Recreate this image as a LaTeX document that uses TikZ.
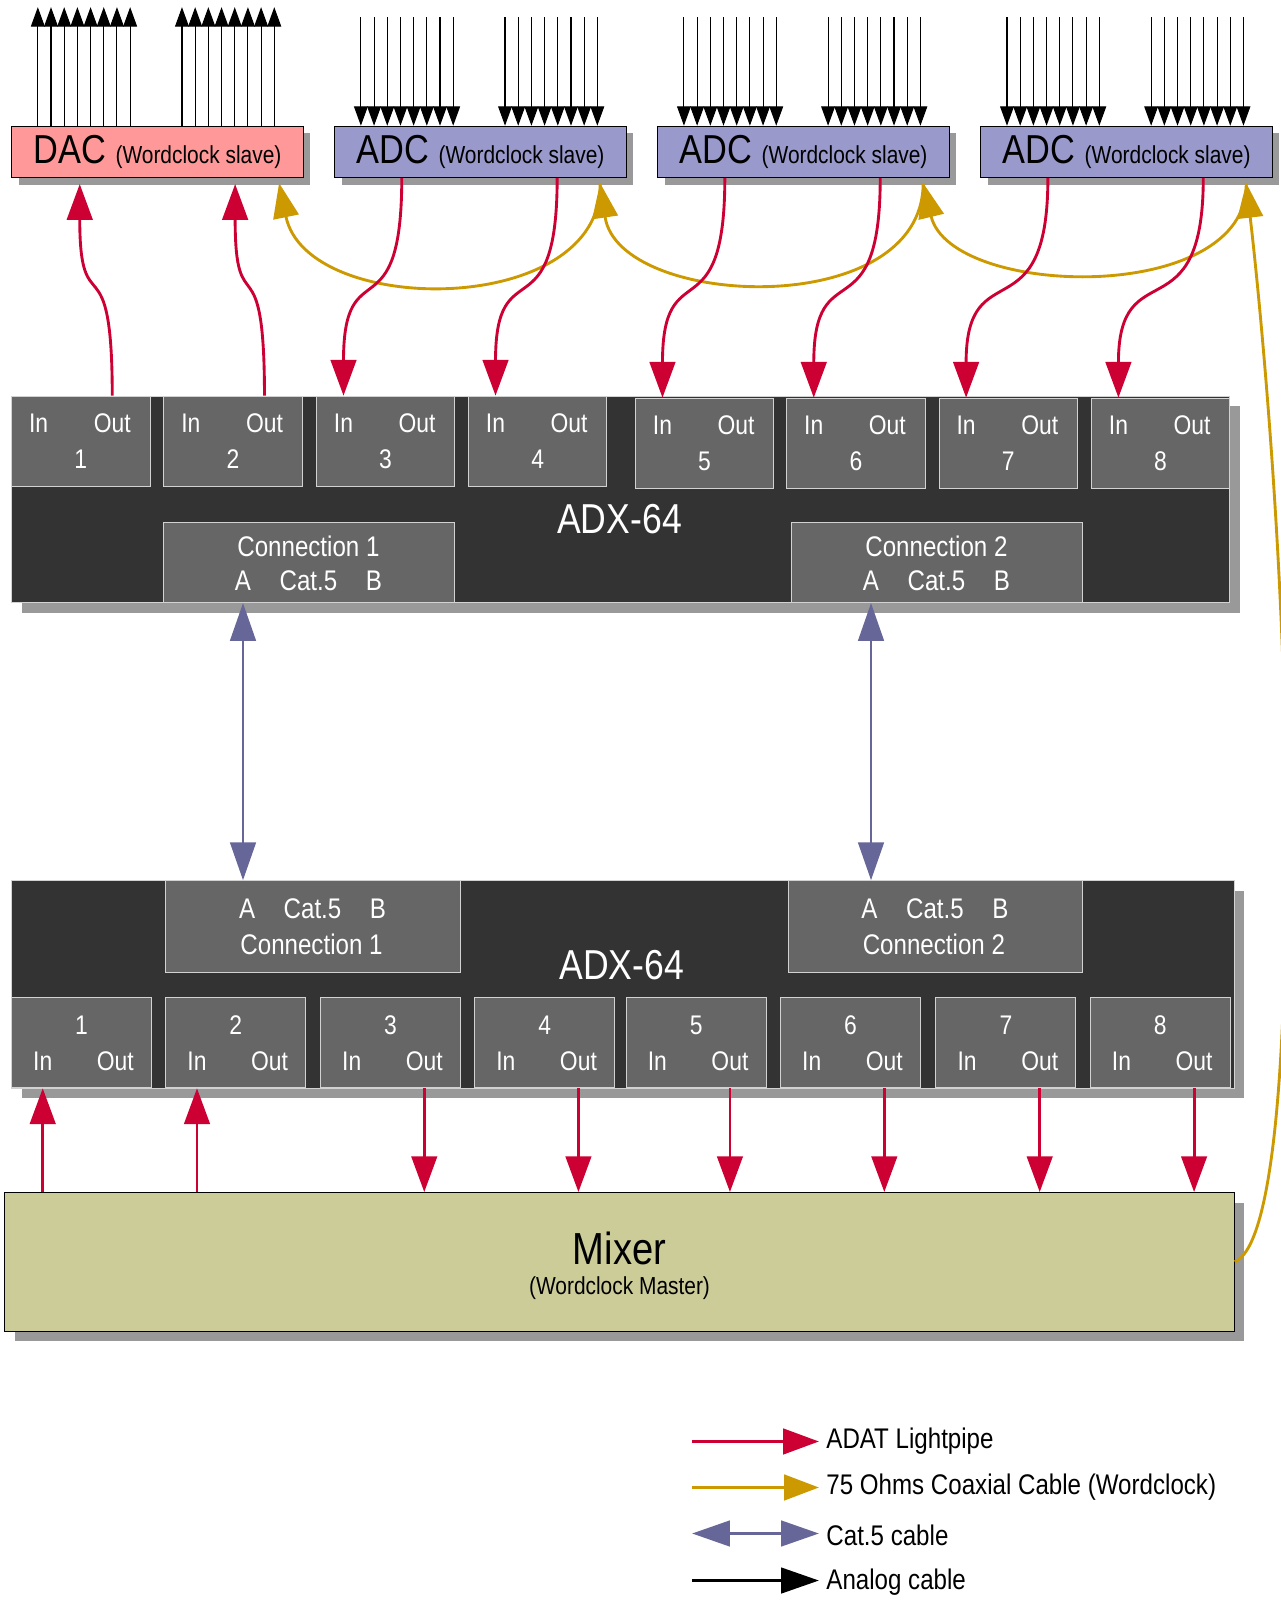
\documentclass[tikz,border=0pt]{standalone}
\usepackage{fontspec}
\setmainfont{Liberation Sans}[FakeStretch=0.85]
\usetikzlibrary{positioning, calc, arrows.meta, shadows}
\definecolor{DacPink}{RGB}{255,153,153}
\definecolor{AdcBlue}{RGB}{153,153,204}
\definecolor{MixKhaki}{RGB}{204,204,153}
\definecolor{BodyDark}{RGB}{51,51,51}
\definecolor{PortGray}{RGB}{102,102,102}
\definecolor{EdgeGray}{RGB}{210,210,210}
\definecolor{ShadowGray}{RGB}{153,153,153}
\definecolor{AdatRed}{RGB}{204,0,51}
\definecolor{ClockGold}{RGB}{204,153,0}
\definecolor{CatPurple}{RGB}{102,102,153}

\begin{document}
\begin{tikzpicture}[x=0.02cm, y=-0.02cm,
    devbox/.style={draw=black, line width=0.6pt, anchor=north west, inner sep=0pt,
                   minimum width=5.7cm, minimum height=1cm,
                   drop shadow={fill=ShadowGray, opacity=1, shadow xshift=0.14cm, shadow yshift=-0.14cm}},
    mixbox/.style={draw=black, line width=0.6pt, fill=MixKhaki, anchor=north west, inner sep=0pt,
                   drop shadow={fill=ShadowGray, opacity=1, shadow xshift=0.2cm, shadow yshift=-0.2cm}},
    body/.style={fill=BodyDark, draw=EdgeGray, line width=0.4pt, anchor=north west, inner sep=0pt,
                 drop shadow={fill=ShadowGray, opacity=1, shadow xshift=0.2cm, shadow yshift=-0.2cm}},
    port/.style={fill=PortGray, draw=EdgeGray, line width=0.5pt, anchor=north west, inner sep=0pt,
                 minimum height=1.76cm},
    porttxt/.style={text=white, inner sep=0pt, font=\fontsize{15}{18}\selectfont},
    conntxt/.style={text=white, inner sep=0pt, font=\fontsize{15.8}{19}\selectfont},
    title/.style={text=white, inner sep=0pt, font=\fontsize{23.3}{28}\selectfont},
    legtxt/.style={anchor=west, inner sep=4pt, font=\fontsize{15.8}{19}\selectfont},
    adat/.style={-{Triangle[length=0.7cm, width=0.5cm]}, AdatRed, line width=1.6pt},
    clock/.style={-{Triangle[length=0.68cm, width=0.5cm]}, ClockGold, line width=1.6pt},
    cat/.style={{Triangle[length=0.74cm, width=0.5cm]}-{Triangle[length=0.74cm, width=0.5cm]},
                CatPurple, line width=1.6pt},
    analog/.style={-{Triangle[length=0.38cm, width=0.27cm]}, black, line width=0.6pt},
    analogleg/.style={-{Triangle[length=0.74cm, width=0.5cm]}, black, line width=1.6pt}
  ]
  \useasboundingbox (0,0) rectangle (1253,1568);

  % converters on top
  \node[devbox, fill=DacPink] (dac) at (11,123)
       {\fontsize{22.5}{26}\selectfont DAC \fontsize{13.7}{16}\selectfont(Wordclock slave)};
  \foreach \n/\x in {1/327, 2/643, 3/959}
    \node[devbox, fill=AdcBlue] (adc\n) at (\x,123)
       {\fontsize{22.5}{26}\selectfont ADC \fontsize{13.7}{16}\selectfont(Wordclock slave)};

  % analog lines, two groups of eight per box
  \foreach \g in {26,167} {
    \foreach \k in {0,...,7} {
      \coordinate (dacjack\g\k) at ($(dac.north west)+(\g+12.9*\k,-116)$);
      \draw[analog] (dacjack\g\k |- dac.north) -- (dacjack\g\k);
      \foreach \n in {1,2,3} {
        \coordinate (adcjack\n\g\k) at ($(adc\n.north west)+(\g+12.9*\k,-106)$);
        \draw[analog] (adcjack\n\g\k) -- (adcjack\n\g\k |- adc\n.north);
      }
    }
  }

  % upper ADX-64
  \node[body, minimum width=23.84cm, minimum height=4.04cm] (ubody) at (10.8,387) {};
  \foreach \n/\x/\y in {1/10.8/387, 2/159.7/387, 3/309/387, 4/457.7/387,
                        5/621/389, 6/769/389, 7/918/389, 8/1067/389} {
    \node[port, minimum width=2.71cm] (u\n) at (\x,\y) {};
    \node[porttxt] (uin\n) at ($(u\n.north west)+(27,27)$) {In};
    \node[porttxt] (uout\n) at ($(u\n.north west)+(99,27)$) {Out};
    \node[porttxt] (unum\n) at ($(u\n.north)+(0,62)$) {\n};
  }
  \foreach \n/\x in {1/159.7, 2/774} {
    \node[port, minimum width=5.69cm, minimum height=1.56cm] (ucon\n) at (\x,511) {};
    \node[conntxt] (ucname\n) at ($(ucon\n.north west)+(142,23)$) {Connection \n};
    \node[conntxt] (uca\n) at ($(ucon\n.north west)+(78,57)$) {A};
    \node[conntxt] (uccat\n) at ($(ucon\n.north west)+(142,57)$) {Cat.5};
    \node[conntxt] (ucb\n) at ($(ucon\n.north west)+(206,57)$) {B};
  }
  \node[title] (utitle) at (606,508) {ADX-64};

  % lower ADX-64
  \node[body, minimum width=23.92cm, minimum height=4.06cm] (lbody) at (10.8,861) {};
  \foreach \n/\x in {1/161.7, 2/770.5} {
    \node[port, minimum width=5.76cm, minimum height=1.8cm] (lcon\n) at (\x,861) {};
    \node[conntxt] (lca\n) at ($(lcon\n.north west)+(80,28)$) {A};
    \node[conntxt] (lccat\n) at ($(lcon\n.north west)+(144,28)$) {Cat.5};
    \node[conntxt] (lcb\n) at ($(lcon\n.north west)+(208,28)$) {B};
    \node[conntxt] (lcname\n) at ($(lcon\n.north west)+(143,63)$) {Connection \n};
  }
  \foreach \n/\x in {1/10.8, 2/161.7, 3/313, 4/463.8, 5/612, 6/763, 7/915, 8/1066} {
    \node[port, minimum width=2.74cm] (l\n) at (\x,975.7) {};
    \node[porttxt] (lnum\n) at ($(l\n.north)+(0,27)$) {\n};
    \node[porttxt] (lin\n) at ($(l\n.north west)+(31,62)$) {In};
    \node[porttxt] (lout\n) at ($(l\n.north west)+(102,62)$) {Out};
  }
  \node[title] (ltitle) at (608,944) {ADX-64};

  % mixer
  \node[mixbox, minimum width=24.06cm, minimum height=2.71cm] (mixer) at (4,1166) {};
  \node[inner sep=0pt, font=\fontsize{25}{30}\selectfont] (mixname) at (606,1221) {Mixer};
  \node[inner sep=0pt, font=\fontsize{13.7}{16}\selectfont] (mixsub) at (606,1260) {(Wordclock Master)};

  % wordclock chain
  \coordinate (dacclk) at ($(dac.south west)+(262,5)$);
  \foreach \n in {1,2,3} {
    \coordinate (adcA\n) at ($(adc\n.south west)+(66,0)$);
    \coordinate (adcB\n) at ($(adc\n.south west)+(218,0)$);
    \coordinate (adcclk\n) at ($(adc\n.south west)+(260,5)$);
  }
  \coordinate (clkbend) at (1258,800);
  \draw[clock] (mixer.east) .. controls +(34,-14) and +(1,270) .. (clkbend)
               .. controls +(-1,-250) and +(14,120) .. (adcclk3);
  \draw[clock] (adcclk3) .. controls +(3,120) and +(27,113) .. (adcclk2);
  \draw[clock] (adcclk2) .. controls +(0,136) and +(18,123) .. (adcclk1);
  \draw[clock] (adcclk1) .. controls +(3,132) and +(27,132) .. (dacclk);

  % lightpipes
  \coordinate (dacin1) at ($(dac.south west)+(67,6)$);
  \coordinate (dacin2) at ($(dac.south west)+(219,6)$);
  \draw[adat] (uout1 |- u1.north) .. controls +(0,-157) and +(0,141) .. (dacin1);
  \draw[adat] (uout2 |- u2.north) .. controls +(0,-157) and +(0,141) .. (dacin2);
  \foreach \n/\p/\q in {1/3/4, 2/5/6, 3/7/8} {
    \draw[adat] (adcA\n) .. controls +(0,156) and +(0,-145) .. (uin\p |- u\p.north);
    \draw[adat] (adcB\n) .. controls +(0,156) and +(0,-145) .. (uin\q |- u\q.north);
  }
  \foreach \p in {1,2}
    \draw[adat] (lin\p |- mixer.north) -- (lin\p |- l\p.south);
  \foreach \p in {3,...,8}
    \draw[adat] (lout\p |- l\p.south) -- (lout\p |- mixer.north);

  % Cat.5 links
  \foreach \n in {1,2}
    \draw[cat] (uca\n |- ucon\n.south) -- (uca\n |- lcon\n.north);

  % legend
  \node[legtxt] (leg1) at (801,1410) {ADAT Lightpipe};
  \node[legtxt] (leg2) at (801,1455) {75 Ohms Coaxial Cable (Wordclock)};
  \node[legtxt] (leg3) at (801,1502) {Cat.5 cable};
  \node[legtxt] (leg4) at (801,1548) {Analog cable};
  \coordinate (legs1) at (677,1410);
  \coordinate (legs2) at (677,1455);
  \coordinate (legs3) at (677,1500);
  \coordinate (legs4) at (677,1546);
  \draw[adat] (legs1) -- (legs1 -| leg1.west);
  \draw[clock] (legs2) -- (legs2 -| leg2.west);
  \draw[cat] (legs3) -- (legs3 -| leg3.west);
  \draw[analogleg] (legs4) -- (legs4 -| leg4.west);
\end{tikzpicture}
\end{document}
